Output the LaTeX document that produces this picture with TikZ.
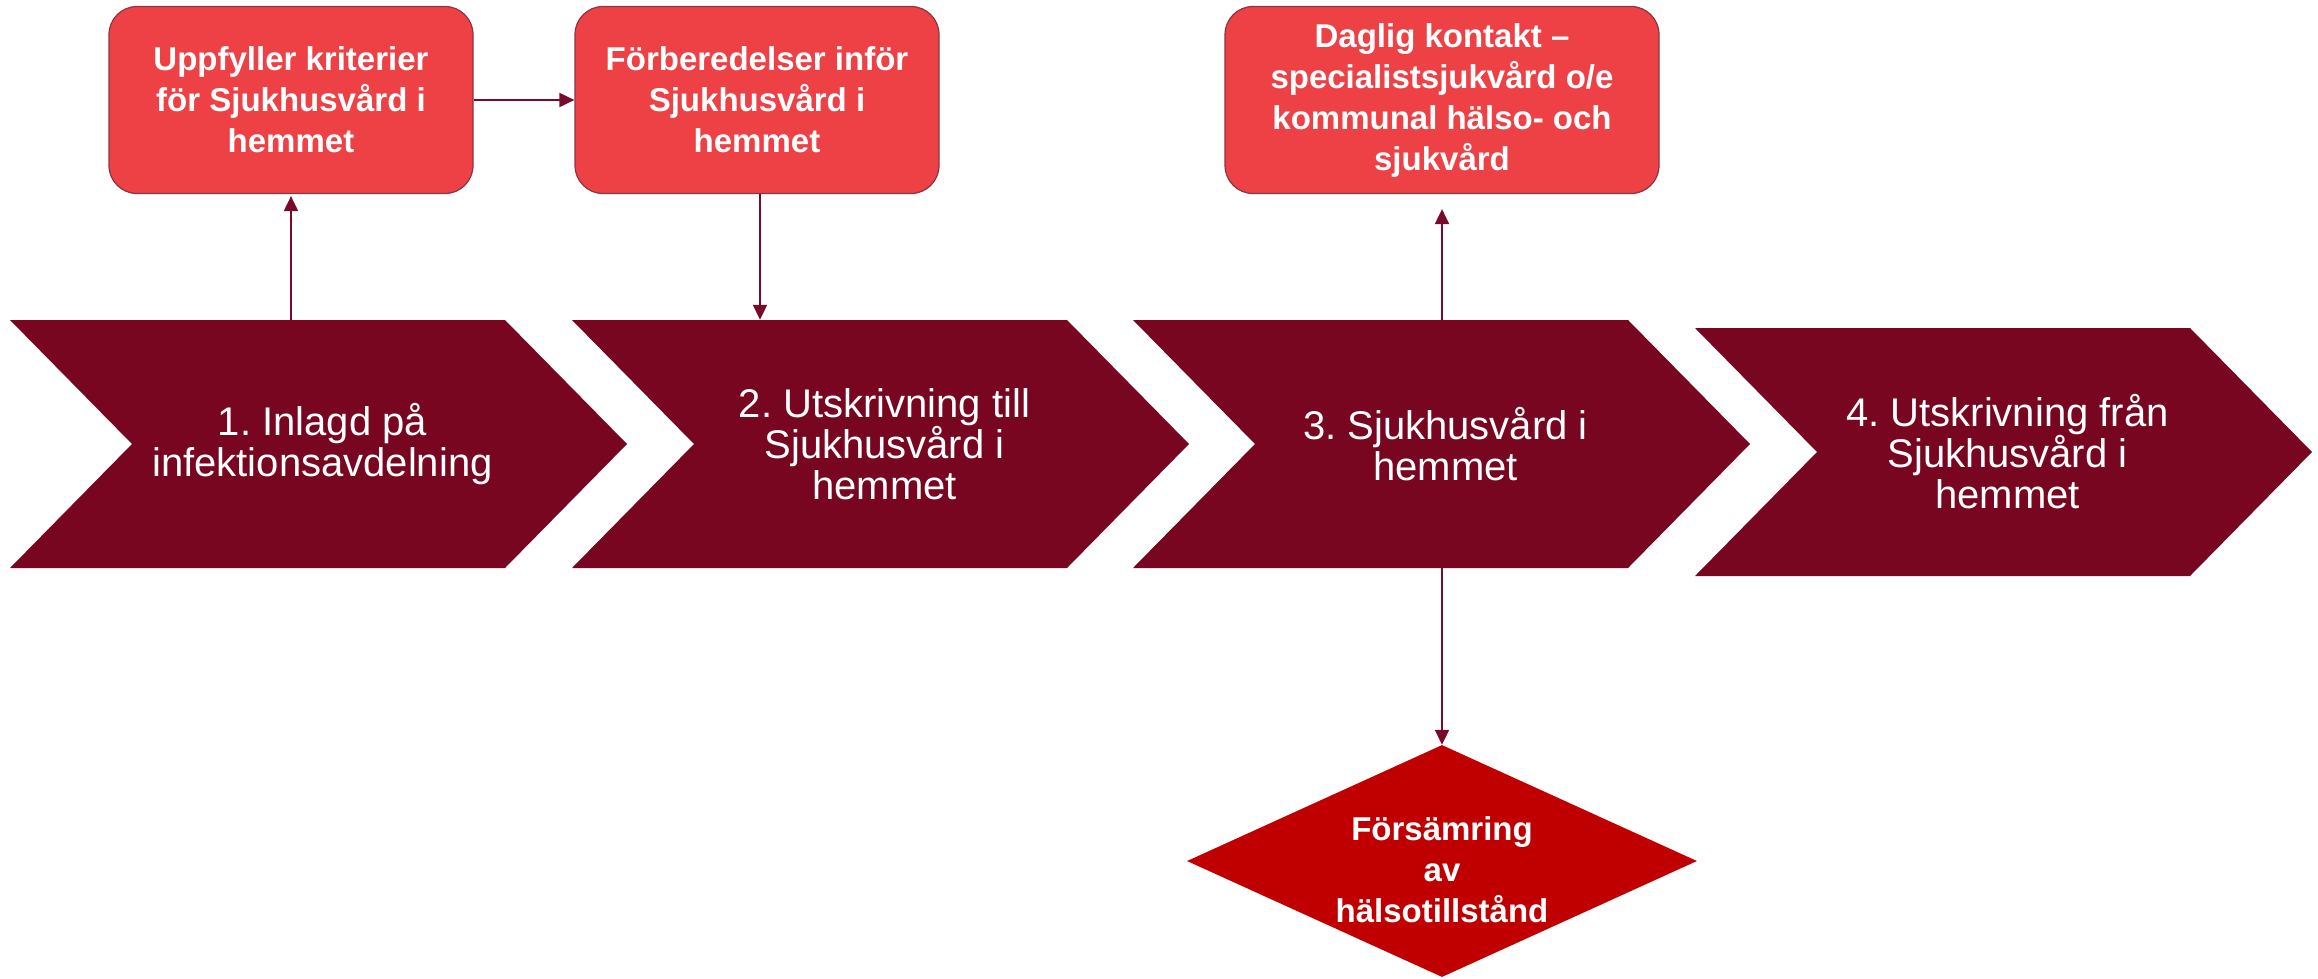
\documentclass[tikz,border=0pt]{standalone}
\usepackage{fontspec}
\setmainfont{Liberation Sans}
\usetikzlibrary{arrows.meta,shapes.geometric}
\definecolor{chev}{HTML}{780621}
\definecolor{boxfill}{HTML}{EE4146}
\definecolor{boxline}{HTML}{8C3442}
\definecolor{diafill}{HTML}{C00000}
\definecolor{arrcol}{HTML}{7A0A2A}
\frenchspacing
\newcommand\mychev[3]{%
  \fill[chev] (#1,#2) -- ({#1+495},#2) -- ({#1+617},{(#2+#3)/2}) -- ({#1+495},#3)
    -- (#1,#3) -- ({#1+122},{(#2+#3)/2}) -- cycle;}
\begin{document}
\begin{tikzpicture}[x=1pt,y=-1pt,
  chevtext/.style={text=white, align=center, inner sep=0pt,
    minimum width=617pt, minimum height=248pt,
    font=\fontsize{40}{41}\selectfont},
  boxnode/.style={rectangle, rounded corners=28pt, fill=boxfill, draw=boxline,
    line width=1.2pt, text=white, align=center,
    font=\bfseries\fontsize{33}{41}\selectfont, minimum height=187pt, inner sep=0pt},
  arr/.style={draw=arrcol, line width=2pt, -{Triangle[width=14pt,length=15pt]}},
  ]
\path[use as bounding box] (0,0) rectangle (2318,978);

% chevrons
\mychev{10}{320}{568}
\mychev{572}{320}{568}
\mychev{1133}{320}{568}
\mychev{1695}{328}{576}

\node[chevtext] (c1) at (322.5,444) {1. Inlagd på\\infektionsavdelning};
\node[chevtext] (c2) at (884.5,444) {2. Utskrivning till\\Sjukhusvård i\\hemmet};
\node[chevtext] (c3) at (1445.5,444) {3. Sjukhusvård i\\hemmet};
\node[chevtext] (c4) at (2007.5,452) {4. Utskrivning från\\Sjukhusvård i\\hemmet};

% boxes
\node[boxnode, minimum width=364pt] (b1) at (291,100) {Uppfyller kriterier\\för Sjukhusvård i\\hemmet};
\node[boxnode, minimum width=364pt] (b2) at (757,100) {Förberedelser inför\\Sjukhusvård i\\hemmet};
\node[boxnode, minimum width=434pt] (b3) at (1442,100) {Daglig kontakt –\\specialistsjukvård o/e\\kommunal hälso- och\\sjukvård};

% diamond
\node[diamond, fill=diafill, minimum width=510pt, minimum height=232pt, inner sep=0pt] (dia) at (1442,861) {};
\node[text=white, align=center, inner sep=0pt,
  font=\bfseries\fontsize{33}{41}\selectfont] (diat) at (1442,870) {Försämring\\av\\hälsotillstånd};

% connectors
\draw[arr] (c1.north -| b1.south) -- ([yshift=-2pt]b1.south);
\draw[arr] (b1.east) -- (b2.west);
\draw[arr] ([xshift=3pt]b2.south) -- ([xshift=3pt]b2.south |- c2.north);
\draw[arr] (c3.north -| b3.south) -- ([yshift=-15pt]b3.south);
\draw[arr] (c3.south -| dia.north) -- (dia.north);
\end{tikzpicture}
\end{document}
